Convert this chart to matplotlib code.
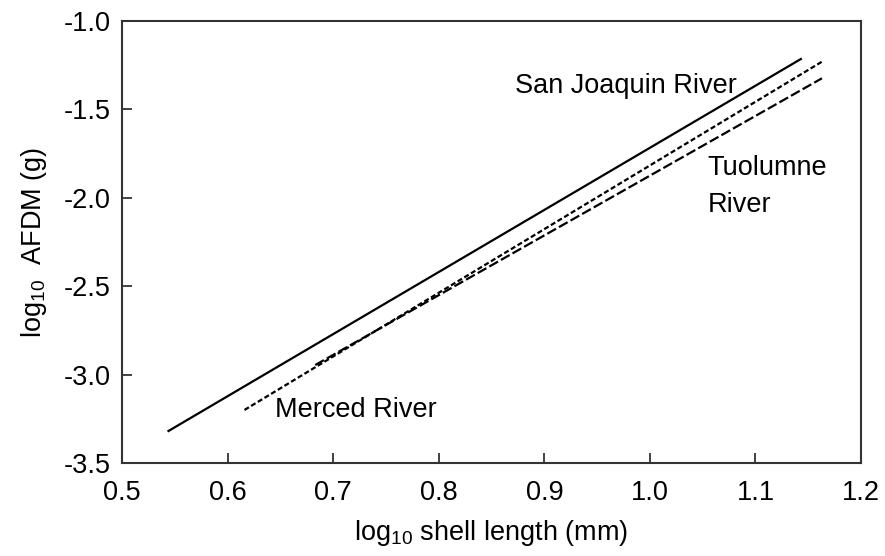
import numpy as np
import matplotlib
matplotlib.use('Agg')
import matplotlib.pyplot as plt

plt.rcParams['font.family'] = ['Liberation Sans', 'DejaVu Sans']
plt.rcParams['mathtext.default'] = 'regular'
plt.rcParams['axes.unicode_minus'] = False

# regression lines, endpoints (log10 length, log10 AFDM)
sanjoaquin_x = [0.544, 1.143]
sanjoaquin_y = [-3.319, -1.215]
merced_x = [0.616, 1.163]
merced_y = [-3.200, -1.230]
tuolumne_x = [0.683, 1.163]
tuolumne_y = [-2.946, -1.324]

xticks = [0.5, 0.6, 0.7, 0.8, 0.9, 1.0, 1.1, 1.2]
yticks = [-3.5, -3.0, -2.5, -2.0, -1.5, -1.0]

fig = plt.figure(figsize=(8.85, 5.56), dpi=100)
ax = fig.add_axes([0.1379, 0.1673, 0.835, 0.7949])

fs = 19.5
ax.plot(sanjoaquin_x, sanjoaquin_y, color='black', lw=1.6)
l2, = ax.plot(merced_x, merced_y, color='black', lw=1.6)
l2.set_dashes([2.3, 1.2])
l3, = ax.plot(tuolumne_x, tuolumne_y, color='black', lw=1.6)
l3.set_dashes([4.5, 1.5])

ax.text(0.8725, -1.407, 'San Joaquin River', fontsize=fs, va='baseline')
ax.text(0.645, -3.240, 'Merced River', fontsize=fs, va='baseline')
# two lines placed separately to match the wider line gap
ax.text(1.0545, -1.871, 'Tuolumne', fontsize=fs, va='baseline')
ax.text(1.0545, -2.080, 'River', fontsize=fs, va='baseline')

ax.set_xlim(0.5, 1.2)
ax.set_ylim(-3.5, -1.0)
ax.set_xticks(xticks)
ax.set_yticks(yticks)
ax.set_xticklabels(['%.1f' % v for v in xticks])
ax.set_yticklabels(['%.1f' % v for v in yticks])
ax.tick_params(direction='in', length=7, width=1.3, labelsize=fs, color='#333333')
ax.tick_params(axis='x', pad=12)
ax.tick_params(axis='y', pad=8)
for s in ax.spines.values():
    s.set_linewidth(1.5)
    s.set_color('#333333')

ax.set_xlabel('log$_{10}$ shell length (mm)', fontsize=fs, labelpad=9)
ax.set_ylabel('log$_{10}$  AFDM (g)', fontsize=fs, labelpad=11)

fig.savefig('out.png', dpi=100)
